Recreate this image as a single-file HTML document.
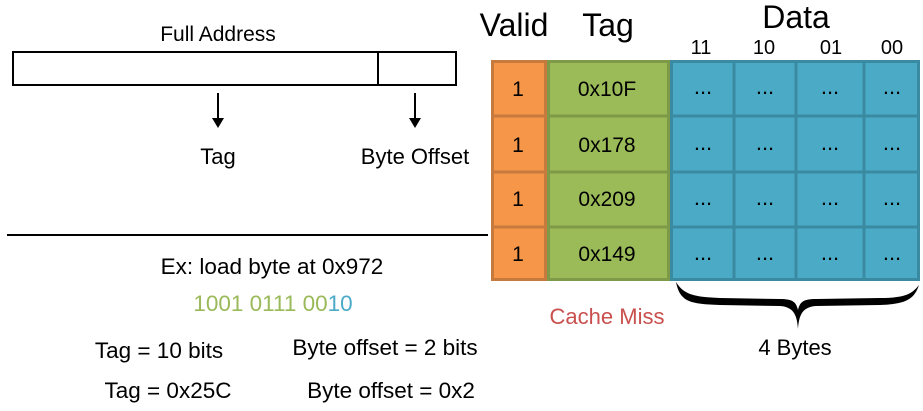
<!DOCTYPE html>
<html><head><meta charset="utf-8"><style>
html,body{margin:0;padding:0;background:#fff}
svg{display:block}
text{font-family:"Liberation Sans",sans-serif}
</style></head><body>
<svg width="923" height="411" viewBox="0 0 923 411" xmlns="http://www.w3.org/2000/svg">
<rect x="0" y="0" width="923" height="411" fill="#fff"/>
<text x="218" y="41" font-size="21" text-anchor="middle">Full Address</text>
<rect x="13" y="52" width="443" height="33" fill="none" stroke="#000" stroke-width="2"/>
<line x1="378" y1="52" x2="378" y2="85" stroke="#000" stroke-width="2"/>
<line x1="218" y1="93" x2="218" y2="120" stroke="#000" stroke-width="2"/>
<polygon points="212,118 224,118 218,128" fill="#000"/>
<line x1="415" y1="93" x2="415" y2="120" stroke="#000" stroke-width="2"/>
<polygon points="409,118 421,118 415,128" fill="#000"/>
<text x="218" y="164" font-size="22" text-anchor="middle">Tag</text>
<text x="415" y="164" font-size="22" text-anchor="middle">Byte Offset</text>
<line x1="7" y1="235" x2="488" y2="235" stroke="#000" stroke-width="2"/>
<text x="272" y="274" font-size="22.5" text-anchor="middle">Ex: load byte at 0x972</text>
<text x="273" y="311" font-size="22.5" text-anchor="middle"><tspan fill="#9aba59">1001 0111 00</tspan><tspan fill="#4aaac8">10</tspan></text>
<text x="159" y="358" font-size="22.5" text-anchor="middle">Tag = 10 bits</text>
<text x="385" y="355" font-size="22.5" text-anchor="middle">Byte offset = 2 bits</text>
<text x="168" y="398" font-size="22.5" text-anchor="middle">Tag = 0x25C</text>
<text x="391" y="398" font-size="22.5" text-anchor="middle">Byte offset = 0x2</text>
<text x="514" y="36" font-size="32" text-anchor="middle">Valid</text>
<text x="608" y="36" font-size="32" text-anchor="middle">Tag</text>
<text x="796" y="28" font-size="32" text-anchor="middle">Data</text>
<text x="701" y="54" font-size="20" text-anchor="middle">11</text>
<text x="764" y="54" font-size="20" text-anchor="middle">10</text>
<text x="831" y="54" font-size="20" text-anchor="middle">01</text>
<text x="892" y="54" font-size="20" text-anchor="middle">00</text>
<rect x="491" y="60" width="56" height="221" fill="#f69648"/>
<rect x="547" y="60" width="123" height="221" fill="#9bbb59"/>
<rect x="670" y="60" width="250" height="221" fill="#4babc6"/>
<g stroke-width="3" fill="none">
<g stroke="#c77a3e">
<rect x="492.5" y="61.5" width="53" height="218"/>
<line x1="492" y1="116" x2="546" y2="116"/><line x1="492" y1="172" x2="546" y2="172"/><line x1="492" y1="227" x2="546" y2="227"/>
</g>
<g stroke="#7e9a48">
<rect x="548.5" y="61.5" width="120" height="218"/>
<line x1="548" y1="116" x2="669" y2="116"/><line x1="548" y1="172" x2="669" y2="172"/><line x1="548" y1="227" x2="669" y2="227"/>
</g>
<g stroke="#3a8aa2">
<rect x="671.5" y="61.5" width="247" height="218"/>
<line x1="671" y1="116" x2="919" y2="116"/><line x1="671" y1="172" x2="919" y2="172"/><line x1="671" y1="227" x2="919" y2="227"/>
<line x1="734" y1="61" x2="734" y2="280"/><line x1="796" y1="61" x2="796" y2="280"/><line x1="864" y1="61" x2="864" y2="280"/>
</g>
</g>
<g font-size="21" text-anchor="middle">
<text x="518" y="96">1</text><text x="518" y="152">1</text><text x="518" y="206">1</text><text x="518" y="261">1</text>
<text x="607" y="96">0x10F</text><text x="607" y="152">0x178</text><text x="607" y="206">0x209</text><text x="607" y="261">0x149</text>
</g>
<g font-size="22" text-anchor="middle">
<text x="703" y="94">...</text><text x="765" y="94">...</text><text x="830" y="94">...</text><text x="892" y="94">...</text>
<text x="703" y="150">...</text><text x="765" y="150">...</text><text x="830" y="150">...</text><text x="892" y="150">...</text>
<text x="703" y="205">...</text><text x="765" y="205">...</text><text x="830" y="205">...</text><text x="892" y="205">...</text>
<text x="703" y="260">...</text><text x="765" y="260">...</text><text x="830" y="260">...</text><text x="892" y="260">...</text>
</g>
<text x="607" y="324" font-size="22" fill="#c9504d" text-anchor="middle">Cache Miss</text>
<path d="M676,282 C680,302 690,304 720,305 L780,306 C795,307 797,317 798,329 C799,317 801,307 816,306 L880,305 C905,304 914,300 919,285 C912,294 905,298 880,298 L816,299 C803,299 800,302 798,310 C796,302 793,299 780,299 L720,298 C695,297 684,295 676,282 Z" fill="#000"/>
<text x="795" y="355" font-size="22" text-anchor="middle">4 Bytes</text>
</svg>
</body></html>
